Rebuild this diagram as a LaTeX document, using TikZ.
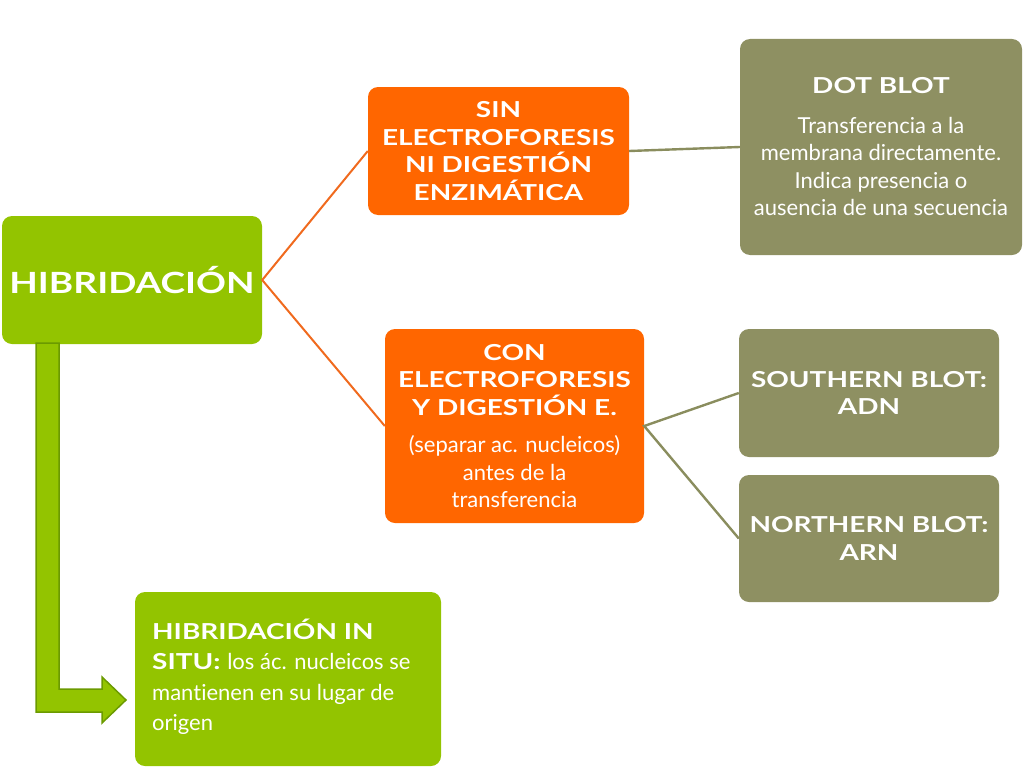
\documentclass[tikz,border=0pt]{standalone}
\usepackage{fontspec}
\setmainfont{Lato}[Ligatures={NoCommon},BoldFeatures={FakeStretch=1.27}]
\definecolor{limeg}{HTML}{93C400}
\definecolor{limedark}{HTML}{6B9A00}
\definecolor{orng}{HTML}{FF6600}
\definecolor{orline}{HTML}{F06A1E}
\definecolor{olive}{HTML}{8E9062}
\definecolor{oliveline}{HTML}{8A8D5E}
\begin{document}
\begin{tikzpicture}[x=1pt,y=-1pt,
  box/.style={rounded corners=10pt,inner sep=0pt,text=white,align=center,font=\fontsize{22}{27.5}\selectfont},
  greenbox/.style={box,fill=limeg},
  orangebox/.style={box,fill=orng},
  olivebox/.style={box,fill=olive},
  orconn/.style={draw=orline,line width=2pt},
  olconn/.style={draw=oliveline,line width=2.4pt}]
\useasboundingbox (0,0) rectangle (1024,768);
\node[greenbox,minimum width=260pt,minimum height=128pt,font=\fontsize{29.2}{36}\selectfont\bfseries] (hib) at (132,280) {HIBRIDACIÓN};
\node[orangebox,minimum width=261pt,minimum height=128pt] (sin) at (498.5,151) {\bfseries SIN\\\bfseries ELECTROFORESIS\\\bfseries NI DIGESTIÓN\\\bfseries ENZIMÁTICA};
\node[orangebox,minimum width=259pt,minimum height=194pt] (con) at (514.5,426) {\bfseries CON\\\bfseries ELECTROFORESIS\\\bfseries Y DIGESTIÓN E.\\[10pt](separar ac. nucleicos)\\antes de la\\transferencia};
\node[olivebox,minimum width=282pt,minimum height=216pt] (dot) at (881,147) {\bfseries DOT BLOT\\[12pt]Transferencia a la\\membrana directamente.\\Indica presencia o\\ausencia de una secuencia};
\node[olivebox,minimum width=260pt,minimum height=128pt] (south) at (869,393) {\bfseries SOUTHERN BLOT:\\\bfseries ADN};
\node[olivebox,minimum width=260pt,minimum height=127pt] (north) at (869,538.5) {\bfseries NORTHERN BLOT:\\\bfseries ARN};
\node[greenbox,minimum width=306pt,minimum height=174pt] (situ) at (288,679) {};
\node[text=white,anchor=west,align=left,inner sep=0pt,font=\fontsize{22}{30.5}\selectfont] (situtxt) at (152,677) {\bfseries HIBRIDACIÓN IN\\\bfseries SITU: \mdseries los ác. nucleicos se\\mantienen en su lugar de\\origen};
\draw[orconn] (sin.west) -- (hib.east) -- (con.west);
\draw[olconn] (sin.east) -- (dot.west);
\draw[olconn] (south.west) -- (con.east) -- (north.west);
\coordinate (a0) at (36,343);
\draw[fill=limeg,draw=limedark,line width=1.5pt,line join=miter]
  (a0) -- (59,343) -- (59,689) -- (102,689) -- (102,677) -- (126,700) -- (102,723) -- (102,712) -- (36,712) -- cycle;
\end{tikzpicture}
\end{document}
